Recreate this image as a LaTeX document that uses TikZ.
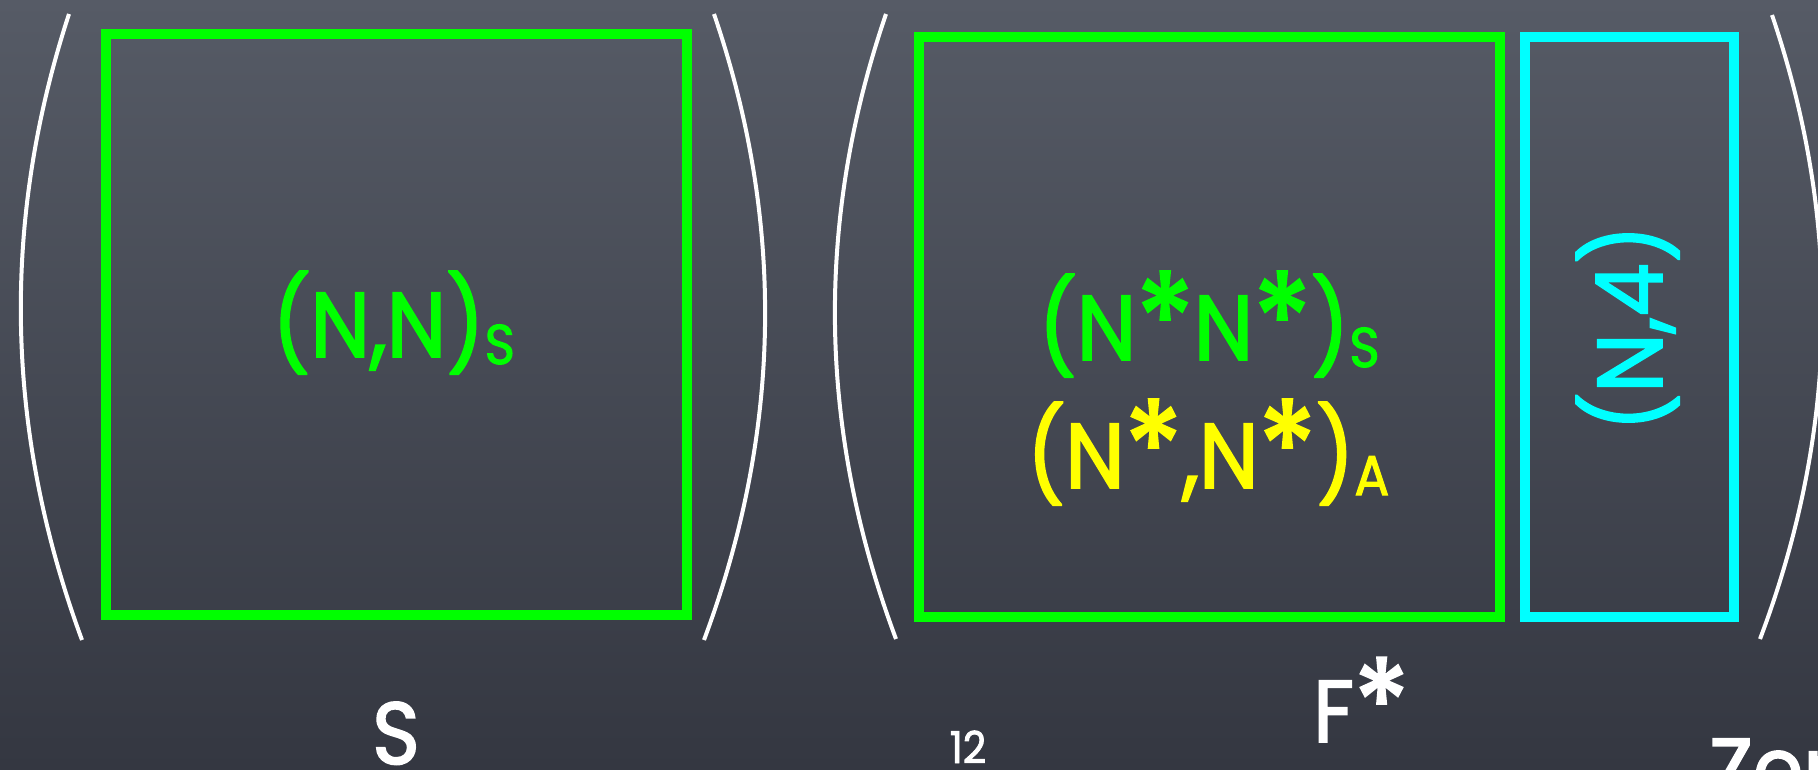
\documentclass[tikz,border=0pt]{standalone}
\usepackage{fontspec}
\setmainfont{Poppins}[FakeStretch=0.92, UprightFeatures={FakeBold=2}]
\usepackage{tikz}
\usetikzlibrary{calc}
\definecolor{Board_Top}{HTML}{565B66}
\definecolor{Board_Bottom}{HTML}{343741}
\definecolor{Chalk_Green}{HTML}{00FF00}
\definecolor{Chalk_Cyan}{HTML}{00FFFF}
\definecolor{Chalk_Yellow}{HTML}{FFFF00}
\newcommand{\lowsub}[1]{\raisebox{-7pt}{\fontsize{56}{56}\selectfont #1}}
\newcommand{\chalkstar}{\raisebox{-6pt}{\scalebox{1.4}{*}}}

\begin{document}
\begin{tikzpicture}[x=1pt, y=-1pt,
    block/.style={draw, line width=10pt, inner sep=0pt},
    paren/.style={white, line width=4pt},
    bigtext/.style={font=\fontsize{92}{92}\selectfont, inner sep=0pt},
    chalktext/.style={white, font=\fontsize{88}{88}\selectfont, inner sep=0pt}]
    % Board
    \useasboundingbox (0,0) rectangle (1818,769);
    \clip (0,0) rectangle (1818,769);
    \shade[top color=Board_Top, bottom color=Board_Bottom] (0,0) rectangle (1818,769);

    % Left matrix S
    \draw[paren] (69,14) .. controls (0.7,222.7) and (5,431.3) .. (82,640);
    \draw[paren] (714,14) .. controls (785.3,222.7) and (782,431.3) .. (704,640);
    \node[block, Chalk_Green, minimum width=581pt, minimum height=580.5pt] (symS) at (396.5,324.25) {};
    \node[bigtext, Chalk_Green, anchor=base] (nnS) at (393.5,357) {(N,N)\lowsub{S}};
    \node[chalktext, anchor=base] (lblS) at (396,764) {S};

    % Right matrix F*
    \draw[paren] (886,14) .. controls (814.7,222.3) and (818,430.7) .. (896,639);
    \draw[paren] (1772,15) .. controls (1842.7,223) and (1838.7,431) .. (1760,639);
    \node[block, Chalk_Green, minimum width=581pt, minimum height=580pt] (symF) at (1209.5,327) {};
    \node[block, Chalk_Cyan, minimum width=209pt, minimum height=580pt] (vecF) at (1629,327) {};
    \node[bigtext, Chalk_Green, anchor=base] (nnFS) at (1209,360) {(N\chalkstar N\chalkstar)\lowsub{S}};
    \node[bigtext, Chalk_Yellow, anchor=base] (nnFA) at (1208,488) {(N\chalkstar,N\chalkstar)\lowsub{A}};
    \node[bigtext, Chalk_Cyan, rotate=90, anchor=base] (nfour) at (1662,328) {(N,4)};
    \node[chalktext, anchor=base west] (lblF) at (1313,742) {F\chalkstar};

    % Page number and cut-off title
    \node[white, font=\fontsize{44}{44}\selectfont, anchor=base, inner sep=0pt] (page) at (968,763) {12};
    \node[chalktext, anchor=base west] (lblZ) at (1709,800) {Zer};
\end{tikzpicture}
\end{document}
